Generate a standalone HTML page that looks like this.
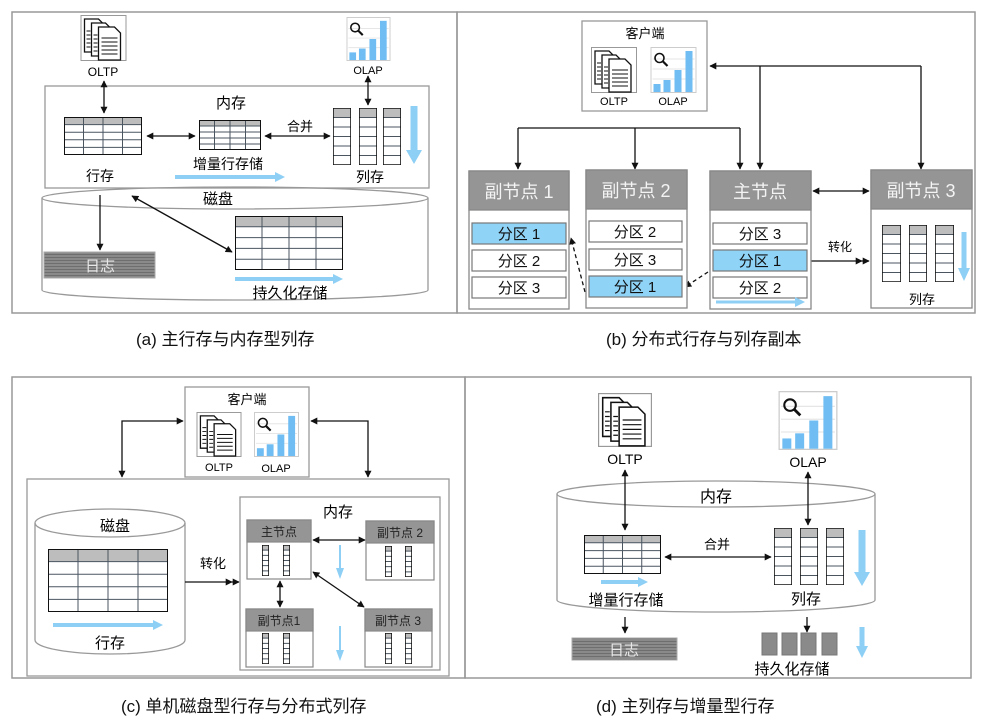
<!DOCTYPE html>
<html><head><meta charset="utf-8"><style>
html,body{margin:0;padding:0;background:#fff;}
svg{display:block;font-family:"Liberation Sans","Noto Sans CJK SC",sans-serif;}
</style></head><body>
<svg width="991" height="725" viewBox="0 0 991 725" xmlns="http://www.w3.org/2000/svg">
<defs>
<marker id="ah" viewBox="0 0 10 10" refX="9" refY="5" markerWidth="7" markerHeight="7" orient="auto-start-reverse" markerUnits="userSpaceOnUse"><path d="M0,0 L10,5 L0,10 z" fill="#111"/></marker>
<marker id="ahd" viewBox="0 0 20 10" refX="19" refY="5" markerWidth="14" markerHeight="7" orient="auto" markerUnits="userSpaceOnUse"><path d="M0,0 L10,5 L0,10 z M10,0 L20,5 L10,10z" fill="#111"/></marker>
<marker id="bh" viewBox="0 0 10 10" refX="5" refY="5" markerWidth="10" markerHeight="10" orient="auto" markerUnits="userSpaceOnUse"><path d="M0,0 L10,5 L0,10 z" fill="#8dcff5"/></marker>
<symbol id="doc" viewBox="0 0 46 46">
<rect x="0.5" y="0.5" width="45" height="45" fill="#fff" stroke="#999"/>
<path d="M4,4 h14 l5,5 v28 h-19z" fill="#fff" stroke="#111" stroke-width="1.3"/>
<path d="M11,8 h14 l5,5 v28 h-19z" fill="#fff" stroke="#111" stroke-width="1.3"/>
<path d="M18,12 h16 l6,6 v27 h-22z" fill="#fff" stroke="#111" stroke-width="1.3"/>
<g stroke="#111" stroke-width="1"><path d="M6,16h4M6,20h4M6,24h4M6,28h4M6,32h4M13,20h4M13,24h4M13,28h4M13,32h4M13,36h4M21,23h16M21,27h16M21,31h16M21,35h16M21,39h16"/></g>
</symbol>
<symbol id="olap" viewBox="0 0 46 46">
<rect x="0.5" y="0.5" width="45" height="45" fill="#fff" stroke="#ccc"/>
<g stroke="#e6e6e6"><path d="M2,12h42M2,22h42M2,32h42"/></g>
<circle cx="9" cy="11" r="4.5" fill="none" stroke="#111" stroke-width="1.6"/>
<path d="M12,14 l5,5" stroke="#111" stroke-width="2.2"/>
<rect x="3" y="37" width="7" height="8" fill="#6fbdf3"/>
<rect x="13" y="33" width="7" height="12" fill="#6fbdf3"/>
<rect x="24" y="23" width="7" height="22" fill="#6fbdf3"/>
<rect x="35" y="4" width="7" height="41" fill="#6fbdf3"/>
</symbol>
<symbol id="tbl" viewBox="0 0 100 50" preserveAspectRatio="none">
<rect x="0" y="0" width="100" height="50" fill="#fff"/>
<rect x="0" y="0" width="100" height="10" fill="#bdbdbd"/>
<path d="M0,10H100M0,20H100M0,30H100M0,40H100M25,0V50M50,0V50M75,0V50" stroke="#4a5560" stroke-width="1" fill="none" vector-effect="non-scaling-stroke"/>
<rect x="0" y="0" width="100" height="50" fill="none" stroke="#111" stroke-width="2" vector-effect="non-scaling-stroke"/>
</symbol>
<symbol id="col" viewBox="0 0 20 60" preserveAspectRatio="none">
<rect x="0" y="0" width="20" height="60" fill="#fff"/>
<rect x="0" y="0" width="20" height="10" fill="#bdbdbd"/>
<path d="M0,10H20M0,20H20M0,30H20M0,40H20M0,50H20" stroke="#4a5560" stroke-width="1" vector-effect="non-scaling-stroke"/>
<rect x="0" y="0" width="20" height="60" fill="none" stroke="#111" stroke-width="1.6" vector-effect="non-scaling-stroke"/>
</symbol>
<pattern id="logp" width="4" height="3" patternUnits="userSpaceOnUse"><rect width="4" height="3" fill="#8a8a8a"/><rect y="2" width="4" height="1" fill="#6e6e6e"/></pattern>
</defs>

<g fill="none" stroke="#999" stroke-width="1.5">
<rect x="12" y="12" width="445" height="301"/>
<rect x="457" y="12" width="518" height="301"/>
<rect x="12" y="377" width="453" height="301"/>
<rect x="465" y="377" width="506" height="301"/>
</g>

<!-- (a) -->
<use href="#doc" x="80" y="15" width="47" height="46"/>
<text x="103" y="76" font-size="12" text-anchor="middle">OLTP</text>
<use href="#olap" x="346" y="17" width="45" height="44"/>
<text x="368" y="74" font-size="11" text-anchor="middle">OLAP</text>
<rect x="45" y="86" width="384" height="102" fill="#fff" stroke="#999" stroke-width="1.3"/>
<text x="231" y="108" font-size="15" text-anchor="middle">内存</text>
<line x1="104" y1="81" x2="104" y2="113" stroke="#111" stroke-width="1.3" marker-start="url(#ah)" marker-end="url(#ah)"/>
<line x1="368" y1="76" x2="368" y2="105" stroke="#111" stroke-width="1.3" marker-start="url(#ah)" marker-end="url(#ah)"/>
<use href="#tbl" x="64" y="117" width="78" height="38"/>
<text x="100" y="181" font-size="14" text-anchor="middle">行存</text>
<line x1="147" y1="136" x2="195" y2="136" stroke="#111" stroke-width="1.3" marker-start="url(#ah)" marker-end="url(#ah)"/>
<use href="#tbl" x="199" y="120" width="62" height="30"/>
<text x="228" y="169" font-size="14" text-anchor="middle">增量行存储</text>
<line x1="175" y1="177" x2="280" y2="177" stroke="#8dcff5" stroke-width="4" marker-end="url(#bh)"/>
<text x="300" y="131" font-size="13" text-anchor="middle">合并</text>
<line x1="265" y1="136" x2="330" y2="136" stroke="#111" stroke-width="1.3" marker-start="url(#ah)" marker-end="url(#ah)"/>
<use href="#col" x="333" y="108" width="18" height="57"/>
<use href="#col" x="359" y="108" width="18" height="57"/>
<use href="#col" x="383" y="108" width="18" height="57"/>
<line x1="414" y1="106" x2="414" y2="156" stroke="#8dcff5" stroke-width="7"/>
<path d="M406,150 L422,150 L414,164z" fill="#8dcff5"/>
<text x="370" y="182" font-size="14" text-anchor="middle">列存</text>
<path d="M42,198 V290 A193,10 0 0 0 428,290 V198" fill="none" stroke="#999" stroke-width="1.3"/>
<ellipse cx="235" cy="198" rx="193" ry="11" fill="none" stroke="#999" stroke-width="1.3"/>
<text x="218" y="204" font-size="15" text-anchor="middle">磁盘</text>
<line x1="100" y1="195" x2="100" y2="250" stroke="#111" stroke-width="1.3" marker-end="url(#ah)"/>
<rect x="44" y="252" width="111" height="26" fill="url(#logp)" stroke="#aaa"/>
<text x="100" y="271" font-size="15" fill="#e8e8e8" text-anchor="middle">日志</text>
<line x1="132" y1="196" x2="232" y2="252" stroke="#111" stroke-width="1.3" marker-start="url(#ah)" marker-end="url(#ah)"/>
<use href="#tbl" x="235" y="216" width="108" height="54"/>
<line x1="235" y1="279" x2="338" y2="279" stroke="#8dcff5" stroke-width="4" marker-end="url(#bh)"/>
<text x="290" y="298" font-size="15" text-anchor="middle">持久化存储</text>

<!-- (b) -->
<rect x="582" y="21" width="125" height="90" fill="#fff" stroke="#999" stroke-width="1.3"/>
<text x="645" y="38" font-size="13" text-anchor="middle">客户端</text>
<use href="#doc" x="591" y="47" width="46" height="46"/>
<use href="#olap" x="650" y="47" width="47" height="46"/>
<text x="614" y="105" font-size="11" text-anchor="middle">OLTP</text>
<text x="673" y="105" font-size="11" text-anchor="middle">OLAP</text>
<g stroke="#111" stroke-width="1.3" fill="none">
<path d="M518,128 H740"/>
<line x1="518" y1="128" x2="518" y2="169" marker-end="url(#ah)"/>
<line x1="635" y1="128" x2="635" y2="169" marker-end="url(#ah)"/>
<line x1="740" y1="128" x2="740" y2="169" marker-end="url(#ah)"/>
<path d="M710,66 H921" marker-start="url(#ah)"/>
<line x1="760" y1="66" x2="760" y2="169" marker-end="url(#ah)"/>
<line x1="921" y1="66" x2="921" y2="169" marker-end="url(#ah)"/>
<line x1="813" y1="191" x2="869" y2="191" marker-start="url(#ah)" marker-end="url(#ah)"/>
<line x1="806" y1="261" x2="869" y2="261" marker-end="url(#ahd)"/>
<line x1="585" y1="292" x2="571" y2="238" stroke-dasharray="4,3" marker-end="url(#ah)"/>
<line x1="708" y1="272" x2="685" y2="287" stroke-dasharray="4,3" marker-end="url(#ah)"/>
</g>
<text x="840" y="251" font-size="12" text-anchor="middle">转化</text>
<g stroke="#888" stroke-width="1.3">
<rect x="469" y="171" width="100" height="138" fill="#fff"/>
<rect x="469" y="171" width="100" height="39" fill="#959595"/>
<rect x="586" y="170" width="101" height="138" fill="#fff"/>
<rect x="586" y="170" width="101" height="39" fill="#959595"/>
<rect x="710" y="171" width="101" height="138" fill="#fff"/>
<rect x="710" y="171" width="101" height="39" fill="#959595"/>
<rect x="871" y="170" width="101" height="138" fill="#fff"/>
<rect x="871" y="170" width="101" height="39" fill="#959595"/>
</g>
<g font-size="18" fill="#f4f4f4" text-anchor="middle">
<text x="519" y="198">副节点 1</text>
<text x="636" y="197">副节点 2</text>
<text x="760" y="198">主节点</text>
<text x="921" y="197">副节点 3</text>
</g>
<g stroke="#777" stroke-width="1.2">
<rect x="472" y="223" width="94" height="21" fill="#8fd3f7"/>
<rect x="472" y="250" width="94" height="21" fill="#fff"/>
<rect x="472" y="277" width="94" height="21" fill="#fff"/>
<rect x="589" y="221" width="93" height="21" fill="#fff"/>
<rect x="589" y="249" width="93" height="21" fill="#fff"/>
<rect x="589" y="276" width="93" height="21" fill="#8fd3f7"/>
<rect x="713" y="223" width="94" height="21" fill="#fff"/>
<rect x="713" y="250" width="94" height="21" fill="#8fd3f7"/>
<rect x="713" y="277" width="94" height="21" fill="#fff"/>
</g>
<g font-size="15" text-anchor="middle" fill="#111">
<text x="519" y="239">分区 1</text>
<text x="519" y="266">分区 2</text>
<text x="519" y="293">分区 3</text>
<text x="635" y="237">分区 2</text>
<text x="635" y="265">分区 3</text>
<text x="635" y="292">分区 1</text>
<text x="760" y="239">分区 3</text>
<text x="760" y="266">分区 1</text>
<text x="760" y="293">分区 2</text>
</g>
<line x1="716" y1="302" x2="800" y2="302" stroke="#8dcff5" stroke-width="3" marker-end="url(#bh)"/>
<use href="#col" x="882" y="225" width="19" height="57"/>
<use href="#col" x="909" y="225" width="18" height="57"/>
<use href="#col" x="935" y="225" width="19" height="57"/>
<line x1="964" y1="232" x2="964" y2="272" stroke="#8dcff5" stroke-width="5"/>
<path d="M958,268 L970,268 L964,281z" fill="#8dcff5"/>
<text x="922" y="304" font-size="13" text-anchor="middle">列存</text>

<!-- (c) -->
<rect x="185" y="387" width="124" height="90" fill="#fff" stroke="#999" stroke-width="1.3"/>
<text x="247" y="404" font-size="13" text-anchor="middle">客户端</text>
<use href="#doc" x="196" y="412" width="46" height="45"/>
<use href="#olap" x="253" y="412" width="47" height="45"/>
<text x="219" y="471" font-size="11" text-anchor="middle">OLTP</text>
<text x="276" y="472" font-size="11" text-anchor="middle">OLAP</text>
<g stroke="#111" stroke-width="1.3" fill="none">
<path d="M183,421 H122 V477" marker-start="url(#ah)" marker-end="url(#ah)"/>
<path d="M311,421 H368 V477" marker-start="url(#ah)" marker-end="url(#ah)"/>
</g>
<rect x="27" y="479" width="422" height="197" fill="none" stroke="#999" stroke-width="1.3"/>
<path d="M35,523 V640 A75,14 0 0 0 185,640 V523" fill="none" stroke="#999" stroke-width="1.3"/>
<ellipse cx="110" cy="523" rx="75" ry="14" fill="none" stroke="#999" stroke-width="1.3"/>
<text x="115" y="531" font-size="15" text-anchor="middle">磁盘</text>
<use href="#tbl" x="48" y="549" width="120" height="63"/>
<line x1="53" y1="625" x2="158" y2="625" stroke="#8dcff5" stroke-width="4" marker-end="url(#bh)"/>
<text x="110" y="648" font-size="15" text-anchor="middle">行存</text>
<text x="213" y="568" font-size="13" text-anchor="middle">转化</text>
<line x1="185" y1="582" x2="239" y2="582" stroke="#111" stroke-width="1.3" marker-end="url(#ahd)"/>
<rect x="240" y="497" width="200" height="173" fill="#fff" stroke="#999" stroke-width="1.3"/>
<text x="338" y="517" font-size="15" text-anchor="middle">内存</text>
<g stroke="#888" stroke-width="1.2">
<rect x="247" y="520" width="64" height="59" fill="#fff"/><rect x="247" y="520" width="64" height="22" fill="#959595"/>
<rect x="366" y="521" width="68" height="59" fill="#fff"/><rect x="366" y="521" width="68" height="22" fill="#959595"/>
<rect x="246" y="609" width="67" height="58" fill="#fff"/><rect x="246" y="609" width="67" height="22" fill="#959595"/>
<rect x="365" y="609" width="67" height="58" fill="#fff"/><rect x="365" y="609" width="67" height="22" fill="#959595"/>
</g>
<g font-size="12" fill="#222" text-anchor="middle">
<text x="279" y="536">主节点</text>
<text x="400" y="537">副节点 2</text>
<text x="279" y="625">副节点1</text>
<text x="398" y="625">副节点 3</text>
</g>
<use href="#col" x="262" y="545" width="7" height="31"/>
<use href="#col" x="283" y="545" width="7" height="31"/>
<use href="#col" x="385" y="546" width="7" height="31"/>
<use href="#col" x="405" y="546" width="7" height="31"/>
<use href="#col" x="262" y="633" width="7" height="31"/>
<use href="#col" x="283" y="633" width="7" height="31"/>
<use href="#col" x="385" y="633" width="7" height="31"/>
<use href="#col" x="405" y="633" width="7" height="31"/>
<g stroke="#111" stroke-width="1.3">
<line x1="313" y1="540" x2="365" y2="540" marker-start="url(#ah)" marker-end="url(#ah)"/>
<line x1="280" y1="581" x2="280" y2="607" marker-start="url(#ah)" marker-end="url(#ah)"/>
<line x1="313" y1="572" x2="364" y2="607" marker-start="url(#ah)" marker-end="url(#ah)"/>
</g>
<line x1="340" y1="545" x2="340" y2="570" stroke="#8dcff5" stroke-width="2"/><path d="M336,568 L344,568 L340,579z" fill="#8dcff5"/>
<line x1="340" y1="626" x2="340" y2="652" stroke="#8dcff5" stroke-width="2"/><path d="M336,650 L344,650 L340,661z" fill="#8dcff5"/>

<!-- (d) -->
<use href="#doc" x="598" y="393" width="54" height="54"/>
<text x="625" y="464" font-size="14" text-anchor="middle">OLTP</text>
<use href="#olap" x="778" y="391" width="60" height="59"/>
<text x="808" y="467" font-size="14" text-anchor="middle">OLAP</text>
<path d="M557,494 V600 A159,12 0 0 0 875,600 V494" fill="none" stroke="#999" stroke-width="1.3"/>
<ellipse cx="716" cy="494" rx="159" ry="13" fill="none" stroke="#999" stroke-width="1.3"/>
<text x="716" y="502" font-size="16" text-anchor="middle">内存</text>
<g stroke="#111" stroke-width="1.3">
<line x1="625" y1="470" x2="625" y2="530" marker-start="url(#ah)" marker-end="url(#ah)"/>
<line x1="808" y1="472" x2="808" y2="525" marker-start="url(#ah)" marker-end="url(#ah)"/>
<line x1="665" y1="557" x2="771" y2="557" marker-start="url(#ah)" marker-end="url(#ah)"/>
<line x1="625" y1="617" x2="625" y2="633" marker-end="url(#ah)"/>
<line x1="807" y1="617" x2="807" y2="632" marker-end="url(#ah)"/>
</g>
<use href="#tbl" x="584" y="535" width="77" height="39"/>
<line x1="601" y1="582" x2="643" y2="582" stroke="#8dcff5" stroke-width="4" marker-end="url(#bh)"/>
<text x="626" y="605" font-size="15" text-anchor="middle">增量行存储</text>
<text x="717" y="549" font-size="13" text-anchor="middle">合并</text>
<use href="#col" x="774" y="528" width="18" height="57"/>
<use href="#col" x="800" y="528" width="18" height="57"/>
<use href="#col" x="826" y="528" width="18" height="57"/>
<line x1="862" y1="530" x2="862" y2="575" stroke="#8dcff5" stroke-width="7"/>
<path d="M854,572 L870,572 L862,586z" fill="#8dcff5"/>
<text x="806" y="604" font-size="15" text-anchor="middle">列存</text>
<rect x="572" y="638" width="105" height="22" fill="url(#logp)" stroke="#aaa"/>
<text x="624" y="655" font-size="15" fill="#e8e8e8" text-anchor="middle">日志</text>
<g fill="#8a8a8a" stroke="#777">
<rect x="762" y="633" width="15" height="22"/><rect x="782" y="633" width="15" height="22"/>
<rect x="801" y="633" width="15" height="22"/><rect x="822" y="633" width="15" height="22"/>
</g>
<line x1="862" y1="627" x2="862" y2="648" stroke="#8dcff5" stroke-width="5"/>
<path d="M856,646 L868,646 L862,658z" fill="#8dcff5"/>
<text x="792" y="674" font-size="15" text-anchor="middle">持久化存储</text>

<!-- captions -->
<g font-size="17" fill="#111">
<text x="136" y="345">(a) 主行存与内存型列存</text>
<text x="606" y="345">(b) 分布式行存与列存副本</text>
<text x="121" y="712">(c) 单机磁盘型行存与分布式列存</text>
<text x="596" y="712">(d) 主列存与增量型行存</text>
</g>
</svg>
</body></html>
